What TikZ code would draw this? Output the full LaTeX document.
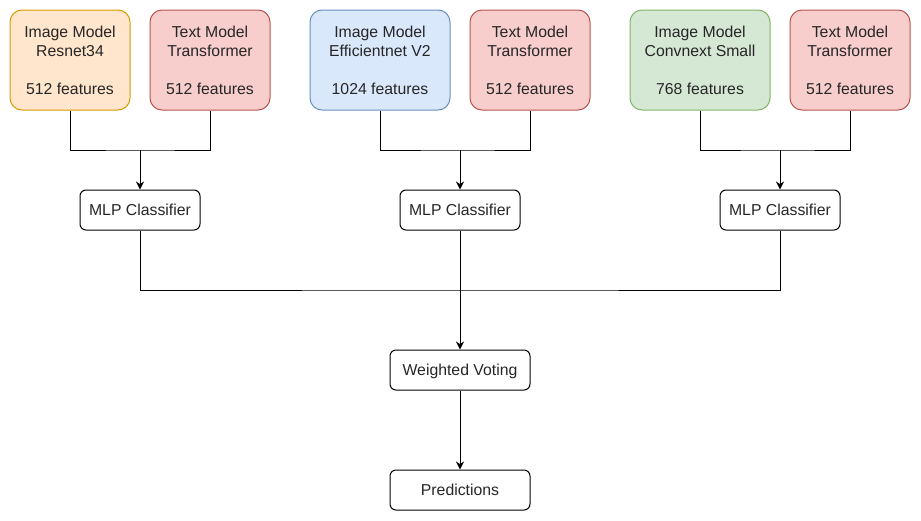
\documentclass[tikz,border=0pt]{standalone}
\usepackage{fontspec}
\setmainfont{Liberation Sans}
\usetikzlibrary{arrows.meta}
\definecolor{orangefill}{HTML}{FFE6CC}
\definecolor{orangeline}{HTML}{D79B00}
\definecolor{redfill}{HTML}{F8CECC}
\definecolor{redline}{HTML}{B85450}
\definecolor{bluefill}{HTML}{DAE8FC}
\definecolor{blueline}{HTML}{6C8EBF}
\definecolor{greenfill}{HTML}{D5E8D4}
\definecolor{greenline}{HTML}{82B366}
\tikzset{
	model/.style={draw, rounded corners=9pt, minimum width=90pt, minimum height=75pt, inner sep=0pt, align=center, line width=0.75pt, text=black!85, font=\fontsize{11.85}{14.25}\selectfont},
	stage/.style={draw, rounded corners=4.5pt, minimum width=90pt, minimum height=30pt, inner sep=0pt, text depth=0pt, align=center, line width=0.75pt, text=black!85, font=\fontsize{11.85}{14.25}\selectfont},
	link/.style={line width=0.75pt},
	arr/.style={line width=0.75pt, -{Stealth[length=6pt, width=6pt]}}
}
\begin{document}
\begin{tikzpicture}[x=0.75pt, y=-0.75pt]
		\useasboundingbox (0,0) rectangle (921,521);
		\node[model, fill=orangefill, draw=orangeline] (img1) at (70,60) {Image Model\\Resnet34\\[14.25pt]512 features};
		\node[model, fill=redfill, draw=redline] (txt1) at (210,60) {Text Model\\Transformer\\[14.25pt]512 features};
		\node[model, fill=bluefill, draw=blueline, minimum width=105pt] (img2) at (380,60) {Image Model\\Efficientnet V2\\[14.25pt]1024 features};
		\node[model, fill=redfill, draw=redline] (txt2) at (530,60) {Text Model\\Transformer\\[14.25pt]512 features};
		\node[model, fill=greenfill, draw=greenline, minimum width=105pt] (img3) at (700,60) {Image Model\\Convnext Small\\[14.25pt]768 features};
		\node[model, fill=redfill, draw=redline] (txt3) at (850,60) {Text Model\\Transformer\\[14.25pt]512 features};
		\node[stage] (mlp1) at (140,210) {MLP Classifier};
		\node[stage] (mlp2) at (460,210) {MLP Classifier};
		\node[stage] (mlp3) at (780,210) {MLP Classifier};
		\node[stage, minimum width=105pt] (vote) at (460,370) {Weighted Voting};
		\node[stage, minimum width=105pt] (pred) at (460,490) {Predictions};
		\coordinate (j1) at (140,150);
		\coordinate (j2) at (460,150);
		\coordinate (j3) at (780,150);
		\coordinate (j4) at (460,290);
		\draw[link] (img1.south) |- (j1) -| (txt1.south);
		\draw[link] (img2.south) |- (j2) -| (txt2.south);
		\draw[link] (img3.south) |- (j3) -| (txt3.south);
		\draw[arr] (j1) -- (mlp1.north);
		\draw[arr] (j2) -- (mlp2.north);
		\draw[arr] (j3) -- (mlp3.north);
		\draw[link] (mlp1.south) |- (j4) -| (mlp3.south);
		\draw[link] (mlp2.south) -- (j4);
		\draw[arr] (j4) -- (vote.north);
		\draw[arr] (vote.south) -- (pred.north);
	\end{tikzpicture}
\end{document}
